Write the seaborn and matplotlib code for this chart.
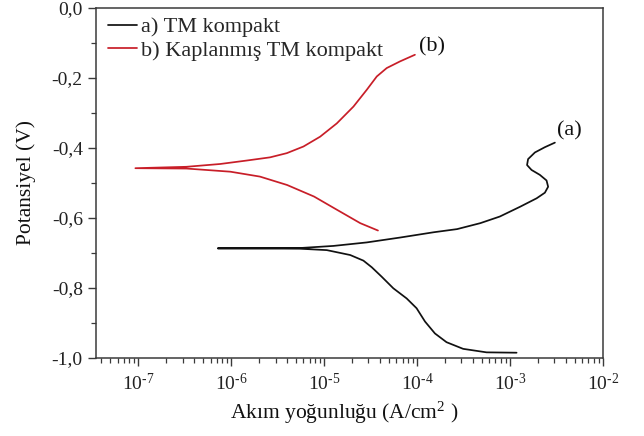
import numpy as np
import pandas as pd
import matplotlib
matplotlib.use("Agg")
import matplotlib.pyplot as plt
import seaborn as sns
from matplotlib.ticker import LogLocator, FixedLocator, FuncFormatter, NullFormatter

# Polarization curve (a): TM kompakt, traced from cathodic end through Ecorr to anodic end
current_a = [1.18e-3, 5.61e-4, 3.14e-4, 2.08e-4, 1.56e-4, 1.22e-4, 9.9e-5, 7.74e-5,
             5.56e-5, 4.17e-5, 3.26e-5, 2.65e-5, 1.91e-5, 1.07e-5, 5.5e-6, 1.5e-6, 7.2e-7,
             1.5e-6, 5.5e-6, 1.26e-5, 2.88e-5, 6.6e-5, 1.51e-4, 2.7e-4, 4.8e-4,
             7.8e-4, 1.29e-3, 1.94e-3, 2.38e-3, 2.58e-3, 2.48e-3, 2.10e-3, 1.71e-3,
             1.53e-3, 1.57e-3, 1.86e-3, 2.38e-3, 3.05e-3]
potential_a = [-0.985, -0.984, -0.974, -0.955, -0.930, -0.896, -0.858, -0.830,
               -0.801, -0.768, -0.741, -0.722, -0.706, -0.692, -0.688, -0.687, -0.687,
               -0.687, -0.686, -0.680, -0.670, -0.656, -0.641, -0.632, -0.615,
               -0.596, -0.568, -0.544, -0.528, -0.511, -0.493, -0.477, -0.463,
               -0.449, -0.432, -0.413, -0.398, -0.385]

# Polarization curve (b): Kaplanmış TM kompakt
current_b = [3.8e-5, 2.45e-5, 1.38e-5, 7.8e-6, 4.0e-6, 2.04e-6, 9.8e-7, 3.3e-7, 9.3e-8,
             3.3e-7, 7.6e-7, 1.48e-6, 2.62e-6, 3.97e-6, 6.0e-6, 9.06e-6, 1.37e-5,
             2.07e-5, 2.88e-5, 3.69e-5, 4.72e-5, 6.56e-5, 9.5e-5]
potential_b = [-0.636, -0.615, -0.577, -0.539, -0.506, -0.482, -0.468, -0.459, -0.458,
               -0.454, -0.446, -0.436, -0.427, -0.415, -0.396, -0.368, -0.330,
               -0.282, -0.234, -0.196, -0.172, -0.153, -0.134]

series_labels = ["a) TM kompakt", "b) Kaplanmış TM kompakt"]
curve_tags = ["(a)", "(b)"]
y_ticks = [0.0, -0.2, -0.4, -0.6, -0.8, -1.0]

df_a = pd.DataFrame({"i": current_a, "E": potential_a, "seri": series_labels[0]})
df_b = pd.DataFrame({"i": current_b, "E": potential_b, "seri": series_labels[1]})

sns.set_style("ticks")
plt.rcParams["font.family"] = ["Liberation Serif", "DejaVu Serif"]
plt.rcParams["mathtext.fontset"] = "custom"
plt.rcParams["mathtext.rm"] = "Liberation Serif"
plt.rcParams["mathtext.it"] = "Liberation Serif:italic"
plt.rcParams["axes.unicode_minus"] = False

fig = plt.figure(figsize=(6.44, 4.36), dpi=100)
ax = fig.add_axes([0.149, 0.179, 0.787, 0.803])

colors = ["#111111", "#c81e28"]
for df, c, lab in [(df_a, colors[0], series_labels[0]), (df_b, colors[1], series_labels[1])]:
    sns.lineplot(data=df, x="i", y="E", sort=False, estimator=None, color=c,
                 linewidth=1.25, label=lab, ax=ax)

ax.set_xscale("log")
ax.set_xlim(3.5e-8, 1e-2)
ax.set_ylim(-1.0, 0.0)

ax.xaxis.set_major_locator(LogLocator(base=10, numticks=12))
ax.xaxis.set_minor_locator(LogLocator(base=10, subs=np.arange(2, 10), numticks=12))
ax.xaxis.set_minor_formatter(NullFormatter())
ax.xaxis.set_major_formatter(
    FuncFormatter(lambda v, p: r"10$^{\text{-%d}}$" % abs(round(np.log10(v)))))

ax.yaxis.set_major_locator(FixedLocator(y_ticks))
ax.yaxis.set_minor_locator(FixedLocator([-0.1, -0.3, -0.5, -0.7, -0.9]))
ax.yaxis.set_major_formatter(
    FuncFormatter(lambda v, p: ("%.1f" % v).replace(".", ",").replace("-0,0", "0,0")))

spine_color = "#3a3a3a"
for s in ax.spines.values():
    s.set_visible(True)
    s.set_color(spine_color)
    s.set_linewidth(1.1)
ax.tick_params(axis="both", which="major", direction="out", length=6, width=1.0,
               color=spine_color, labelsize=14, labelcolor="#222222", top=False, right=False)
ax.tick_params(axis="both", which="minor", direction="out", length=3.5, width=0.9,
               color=spine_color, top=False, right=False)
ax.tick_params(axis="x", which="major", pad=5)

ax.set_xlabel(r"Akım yoğunluğu (A/cm$^{2}$ )", fontsize=15.5, color="#111111")
ax.set_ylabel("Potansiyel (V)", fontsize=15.5, color="#111111")
ax.xaxis.set_label_coords(0.49, -0.12)
ax.yaxis.set_label_coords(-0.118, 0.5)

leg = ax.legend(loc="upper left", frameon=False, fontsize=16, handlelength=1.3,
                handletextpad=0.2, borderaxespad=0.0, labelspacing=0.13,
                bbox_to_anchor=(0.006, 1.0))

ax.text(3.2e-3, -0.352, curve_tags[0], fontsize=16, ha="left", va="center", color="#111111")
ax.text(1.05e-4, -0.110, curve_tags[1], fontsize=16, ha="left", va="center", color="#111111")

fig.savefig("out.png", dpi=100, facecolor="white")
